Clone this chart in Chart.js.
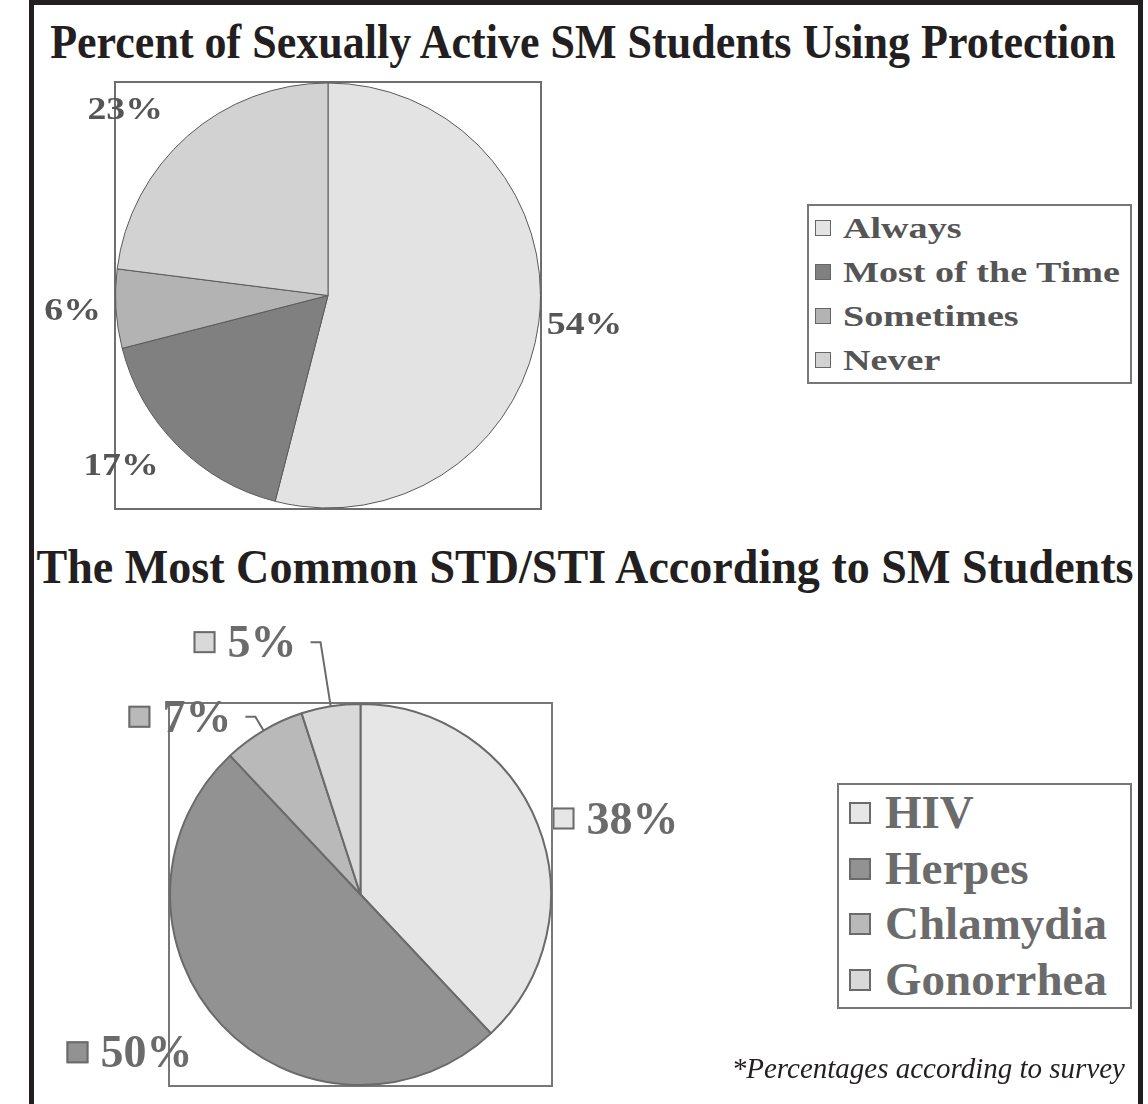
<!DOCTYPE html>
<html>
<head>
<meta charset="utf-8">
<script src="https://cdn.jsdelivr.net/npm/chart.js@4.4.1/dist/chart.umd.min.js"></script>
<style>
	html, body { margin: 0; padding: 0; background: #fff; }
	body { width: 1148px; height: 1104px; position: relative; overflow: hidden; }
	#frame {
		position: absolute; left: 29px; top: 0; width: 1114px; height: 1200px;
		border: 5px solid #231f20; border-bottom: none; box-sizing: border-box;
	}
	.title {
		position: absolute; font-family: "Liberation Serif", "Times New Roman", serif;
		font-weight: bold; font-size: 48px; line-height: 48px; color: #231f20;
		text-align: center; white-space: nowrap;
	}
	#title1 { left: 0; width: 1166px; top: 18px; transform: scaleX(0.917); }
	#title2 { left: 0; width: 1170px; top: 543px; transform: scaleX(0.96); }
	canvas { position: absolute; }
	#pieTop { left: 34px; top: 75px; }
	#pieStd { left: 34px; top: 600px; }
	.legend {
		position: absolute; border: 2px solid #777; box-sizing: border-box;
		font-family: "Liberation Serif", "Times New Roman", serif; font-weight: bold;
		white-space: nowrap;
	}
	.legend .row { position: relative; }
	.legend .sw { position: absolute; box-sizing: border-box; }
	.legend .tx { position: absolute; transform-origin: left center; }
	#legendTop { left: 807px; top: 204px; width: 325px; height: 180px; font-size: 30px; color: #555; }
	#legendTop .row { height: 44px; line-height: 44px; }
	#legendTop .sw { left: 6px; top: 14px; width: 16px; height: 16px; border: 1px solid #666; }
	#legendTop .tx { left: 34px; top: 0; transform: scaleX(1.27); }
	#legendStd { left: 837px; top: 783px; width: 295px; height: 226px; font-size: 47px; color: #6b6b6b; }
	#legendStd .row { height: 55.7px; line-height: 55.7px; }
	#legendStd .sw { left: 10px; top: 17px; width: 22px; height: 22px; border: 2px solid #6b6b6b; }
	#legendStd .tx { left: 46px; top: 0; }
	#note {
		position: absolute; right: 23px; top: 1054px; font-family: "Liberation Serif", "Times New Roman", serif;
		font-style: italic; font-size: 29px; line-height: 29px; color: #231f20; white-space: nowrap;
	}
</style>
</head>
<body>
<div id="frame"></div>
<div class="title" id="title1">Percent of Sexually Active SM Students Using Protection</div>
<canvas id="pieTop" width="760" height="460"></canvas>
<div class="legend" id="legendTop"></div>
<div class="title" id="title2">The Most Common STD/STI According to SM Students</div>
<canvas id="pieStd" width="760" height="504"></canvas>
<div class="legend" id="legendStd"></div>
<div id="note">*Percentages according to survey</div>

<script>
// protection chart
var protectionLabels = ['Always', 'Most of the Time', 'Sometimes', 'Never'];
var protectionValues = [54, 17, 6, 23];
var protectionColors = ['#e3e3e3', '#808080', '#b3b3b3', '#d2d2d2'];

// std chart
var stdLabels = ['HIV', 'Herpes', 'Chlamydia', 'Gonorrhea'];
var stdValues = [38, 50, 7, 5];
var stdColors = ['#e6e6e6', '#929292', '#b9b9b9', '#d9d9d9'];

// draws the gray plot box and the percent labels round the pie
var pieLabels = {
	id: 'pieLabels',
	beforeDatasetsDraw: function(chart, args, opts){
		let a = chart.chartArea;
		let ctx = chart.ctx;
		ctx.save();
		ctx.strokeStyle = opts.boxColor;
		ctx.lineWidth = opts.boxWidth;
		ctx.strokeRect(a.left, a.top, a.right - a.left, a.bottom - a.top);
		ctx.restore();
	},
	afterDatasetsDraw: function(chart, args, opts){
		let ctx = chart.ctx;
		let ds = chart.data.datasets[0];
		let total = ds.data.reduce(function(s, v){ return s + v; }, 0);
		ctx.save();
		ctx.font = opts.font;
		ctx.textBaseline = 'alphabetic';
		chart.getDatasetMeta(0).data.forEach(function(arc, i){
			let p = arc.getProps(['x', 'y', 'startAngle', 'endAngle', 'outerRadius'], true);
			let mid = (p.startAngle + p.endAngle) / 2;
			let dx = Math.cos(mid);
			let dy = Math.sin(mid);
			let r = p.outerRadius + opts.offset[i];
			let ax = p.x + dx * r;
			let ay = p.y + dy * r;
			let left = dx < 0;
			if(opts.leader && ds.data[i] / total < 0.1){
				ctx.strokeStyle = opts.lineColor;
				ctx.lineWidth = 2;
				ctx.beginPath();
				ctx.moveTo(p.x + dx * p.outerRadius, p.y + dy * p.outerRadius);
				ctx.lineTo(ax, ay);
				ax += left ? -opts.tick : opts.tick;
				ctx.lineTo(ax, ay);
				ctx.stroke();
				ax += left ? -opts.gap : opts.gap;
			}
			let text = ds.data[i] + '%';
			let tw = ctx.measureText(text).width * opts.stretch;
			let mw = opts.marker ? opts.marker + opts.markerGap : 0;
			let x0 = left ? ax - tw - mw : ax;
			if(opts.marker){
				ctx.fillStyle = ds.backgroundColor[i];
				ctx.fillRect(x0, ay - opts.marker / 2, opts.marker, opts.marker);
				ctx.strokeStyle = opts.lineColor;
				ctx.lineWidth = 2;
				ctx.strokeRect(x0 + 1, ay - opts.marker / 2 + 1, opts.marker - 2, opts.marker - 2);
			}
			ctx.fillStyle = opts.color;
			ctx.save();
			ctx.translate(x0 + mw, ay + opts.size * 0.33);
			ctx.scale(opts.stretch, 1);
			ctx.fillText(text, 0, 0);
			ctx.restore();
		});
		ctx.restore();
	}
};

function buildLegend(chart, el){
	let ds = chart.data.datasets[0];
	let html = '';
	for(let i in chart.data.labels){
		html += '<div class="row"><span class="sw" style="background:' + ds.backgroundColor[i] + '"></span>'
			+ '<span class="tx">' + chart.data.labels[i] + '</span></div>';
	}
	el.innerHTML = html;
}

function pieConfig(labels, values, colors, border, padding, labelOpts){
	return {
		type: 'pie',
		data: {
			labels: labels,
			datasets: [{
				data: values,
				backgroundColor: colors,
				borderColor: border.color,
				borderWidth: border.width,
				hoverOffset: 0
			}]
		},
		options: {
			responsive: false,
			devicePixelRatio: 1,
			animation: false,
			events: [],
			layout: { padding: padding },
			plugins: {
				legend: { display: false },
				title: { display: false },
				tooltip: { enabled: false },
				pieLabels: labelOpts
			}
		},
		plugins: [pieLabels]
	};
}

var chartTop = new Chart(
	document.getElementById('pieTop'),
	pieConfig(protectionLabels, protectionValues, protectionColors,
		{ color: '#5a5a5a', width: 1 },
		{ left: 81, right: 253, top: 7, bottom: 26 },
		{
			boxColor: '#6e6e6e', boxWidth: 2,
			font: 'bold 32px "Liberation Serif"', size: 32, stretch: 1.18,
			color: '#555555', lineColor: '#666666',
			offset: [8, 27, 15, 37],
			leader: false, marker: 0
		})
);

var chartStd = new Chart(
	document.getElementById('pieStd'),
	pieConfig(stdLabels, stdValues, stdColors,
		{ color: '#6a6a6a', width: 2 },
		{ left: 135, right: 242, top: 103, bottom: 18 },
		{
			boxColor: '#777777', boxWidth: 2,
			font: 'bold 46px "Liberation Serif"', size: 46, stretch: 1,
			color: '#6b6b6b', lineColor: '#6b6b6b',
			offset: [16, 40, 16, 65],
			leader: true, tick: 10, gap: 14,
			marker: 22, markerGap: 12
		})
);

buildLegend(chartTop, document.getElementById('legendTop'));
buildLegend(chartStd, document.getElementById('legendStd'));
</script>
</body>
</html>
